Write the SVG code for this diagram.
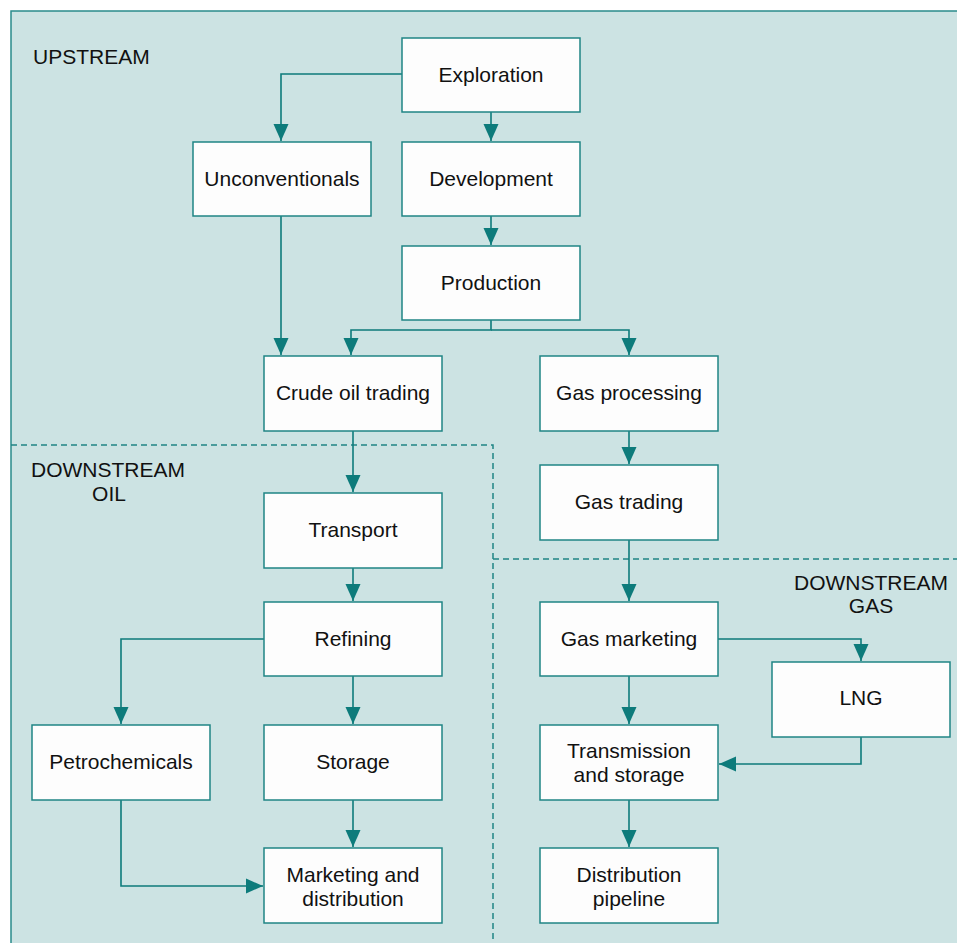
<svg xmlns="http://www.w3.org/2000/svg" width="957" height="943" viewBox="0 0 957 943">
<style>
.bg{fill:#cce3e3;stroke:#2a8c8c;stroke-width:1.5}
.box{fill:#fdfdfd;stroke:#1f8585;stroke-width:1.5}
.t{font-family:"Liberation Sans",Arial,sans-serif;font-size:21px;fill:#111;text-anchor:middle}
.lab{font-family:"Liberation Sans",Arial,sans-serif;font-size:21px;fill:#111}
.c{fill:none;stroke:#0d7b7b;stroke-width:1.6}
.d{fill:none;stroke:#1f8585;stroke-width:1.5;stroke-dasharray:6,4}
</style>
<defs>
<marker id="ah" viewBox="0 0 17 16" refX="17" refY="8" markerWidth="17" markerHeight="16" markerUnits="userSpaceOnUse" orient="auto"><path d="M0,0.5 L17,8 L0,15.5 Z" fill="#0d7b7b"/></marker>
</defs>
<rect class="bg" x="11" y="11" width="960" height="950"/>
<g id="regions">
<path class="d" d="M11,445 H493 V943"/>
<path class="d" d="M493,559 H957"/>
<text class="lab" x="33" y="64">UPSTREAM</text>
<text class="lab" x="31" y="477">DOWNSTREAM</text>
<text class="lab" x="109" y="501" text-anchor="middle">OIL</text>
<text class="t" x="871" y="590">DOWNSTREAM</text>
<text class="t" x="871" y="613">GAS</text>
</g>
<g id="connectors">
<path class="c" marker-end="url(#ah)" d="M402,74 H281 V141"/>
<path class="c" marker-end="url(#ah)" d="M491,112 V141"/>
<path class="c" marker-end="url(#ah)" d="M491,216 V245"/>
<path class="c" marker-end="url(#ah)" d="M281,216 V355"/>
<path class="c" marker-end="url(#ah)" d="M491,320 V330 H351 V355"/>
<path class="c" marker-end="url(#ah)" d="M491,330 H629 V355"/>
<path class="c" marker-end="url(#ah)" d="M353,431 V492"/>
<path class="c" marker-end="url(#ah)" d="M629,431 V464"/>
<path class="c" marker-end="url(#ah)" d="M353,568 V601"/>
<path class="c" marker-end="url(#ah)" d="M629,540 V601"/>
<path class="c" marker-end="url(#ah)" d="M264,639 H121 V724"/>
<path class="c" marker-end="url(#ah)" d="M353,676 V724"/>
<path class="c" marker-end="url(#ah)" d="M718,639 H861 V661"/>
<path class="c" marker-end="url(#ah)" d="M629,676 V724"/>
<path class="c" marker-end="url(#ah)" d="M861,737 V764 H719"/>
<path class="c" marker-end="url(#ah)" d="M121,800 V886 H263"/>
<path class="c" marker-end="url(#ah)" d="M353,800 V847"/>
<path class="c" marker-end="url(#ah)" d="M629,800 V847"/>
</g>
<g id="exploration"><rect class="box" x="402" y="38" width="178" height="74"/><text class="t" x="491" y="82">Exploration</text></g>
<g id="unconventionals"><rect class="box" x="193" y="142" width="178" height="74"/><text class="t" x="282" y="186">Unconventionals</text></g>
<g id="development"><rect class="box" x="402" y="142" width="178" height="74"/><text class="t" x="491" y="186">Development</text></g>
<g id="production"><rect class="box" x="402" y="246" width="178" height="74"/><text class="t" x="491" y="290">Production</text></g>
<g id="crude-oil-trading"><rect class="box" x="264" y="356" width="178" height="75"/><text class="t" x="353" y="400">Crude oil trading</text></g>
<g id="gas-processing"><rect class="box" x="540" y="356" width="178" height="75"/><text class="t" x="629" y="400">Gas processing</text></g>
<g id="transport"><rect class="box" x="264" y="493" width="178" height="75"/><text class="t" x="353" y="537">Transport</text></g>
<g id="gas-trading"><rect class="box" x="540" y="465" width="178" height="75"/><text class="t" x="629" y="509">Gas trading</text></g>
<g id="refining"><rect class="box" x="264" y="602" width="178" height="74"/><text class="t" x="353" y="646">Refining</text></g>
<g id="gas-marketing"><rect class="box" x="540" y="602" width="178" height="74"/><text class="t" x="629" y="646">Gas marketing</text></g>
<g id="lng"><rect class="box" x="772" y="662" width="178" height="75"/><text class="t" x="861" y="705">LNG</text></g>
<g id="petrochemicals"><rect class="box" x="32" y="725" width="178" height="75"/><text class="t" x="121" y="769">Petrochemicals</text></g>
<g id="storage"><rect class="box" x="264" y="725" width="178" height="75"/><text class="t" x="353" y="769">Storage</text></g>
<g id="transmission-and-storage"><rect class="box" x="540" y="725" width="178" height="75"/><text class="t" x="629" y="758">Transmission</text><text class="t" x="629" y="782">and storage</text></g>
<g id="marketing-and-distribution"><rect class="box" x="264" y="848" width="178" height="75"/><text class="t" x="353" y="882">Marketing and</text><text class="t" x="353" y="906">distribution</text></g>
<g id="distribution-pipeline"><rect class="box" x="540" y="848" width="178" height="75"/><text class="t" x="629" y="882">Distribution</text><text class="t" x="629" y="906">pipeline</text></g>
</svg>
